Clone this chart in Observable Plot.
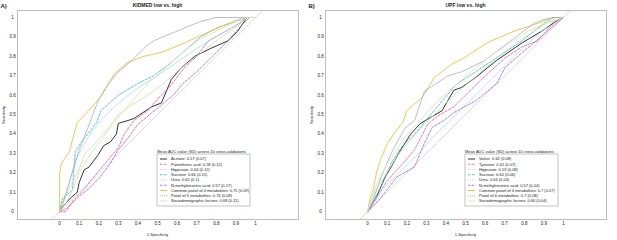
<!DOCTYPE html>
<html><head><meta charset="utf-8">
<script src="https://cdn.jsdelivr.net/npm/d3@7"></script>
<script src="https://cdn.jsdelivr.net/npm/@observablehq/plot@0.6"></script>
<style>
body{margin:0;background:#fff;}
#wrap{display:flex;width:617px;height:240px;overflow:hidden;}
svg{font-family:"Liberation Sans",Arial,sans-serif;}
</style></head><body><div id="wrap"></div>
<script>
// ---------- tick labels ----------
const xTicks = [0, 0.1, 0.2, 0.3, 0.4, 0.5, 0.6, 0.7, 0.8, 0.9, 1];
const yTicks = [0, 0.1, 0.2, 0.3, 0.4, 0.5, 0.6, 0.7, 0.8, 0.9, 1];

// ---------- Panel A: KIDMED low vs. high ----------
const namesA = ["Acetate", "Pantothenic acid", "Hippurate", "Sucrose", "Urea", "N-methylnicotinic acid", "Common panel of 4 metabolites", "Panel of 6 metabolites", "Sociodemographic factors"];
const aucMeanA = [0.57, 0.58, 0.64, 0.66, 0.65, 0.57, 0.75, 0.74, 0.68];
const aucSdA = [0.07, 0.12, 0.12, 0.15, 0.1, 0.17, 0.09, 0.08, 0.11];

const acetateA = [[0,0],[0.02,0.03],[0.055,0.07],[0.09,0.10],[0.10,0.15],[0.125,0.215],[0.15,0.23],[0.195,0.29],[0.225,0.34],[0.26,0.36],[0.29,0.40],[0.30,0.455],[0.35,0.47],[0.38,0.48],[0.47,0.54],[0.52,0.56],[0.57,0.68],[0.62,0.74],[0.69,0.80],[0.77,0.84],[0.86,0.88],[0.91,0.93],[0.95,0.99],[0.96,1],[1,1]];
const pantothenicA = [[0,0],[0.04,0.02],[0.08,0.07],[0.12,0.11],[0.16,0.16],[0.2,0.21],[0.25,0.27],[0.3,0.33],[0.33,0.4],[0.38,0.47],[0.45,0.52],[0.5,0.58],[0.56,0.64],[0.64,0.745],[0.7,0.8],[0.76,0.88],[0.85,0.93],[0.92,0.97],[0.96,1],[1,1]];
const hippurateA = [[0,0],[0.02,0.06],[0.05,0.15],[0.08,0.26],[0.12,0.34],[0.17,0.42],[0.22,0.48],[0.28,0.54],[0.35,0.6],[0.42,0.65],[0.5,0.7],[0.6,0.77],[0.7,0.84],[0.8,0.9],[0.9,0.96],[0.95,1],[1,1]];
const sucroseA = [[0,0],[0.015,0.07],[0.065,0.11],[0.08,0.31],[0.12,0.37],[0.19,0.46],[0.21,0.52],[0.3,0.6],[0.4,0.66],[0.48,0.70],[0.56,0.76],[0.64,0.83],[0.72,0.9],[0.81,0.95],[0.93,0.99],[0.96,1],[1,1]];
const ureaA = [[0,0],[0.02,0.06],[0.06,0.14],[0.1,0.22],[0.13,0.3],[0.18,0.35],[0.24,0.42],[0.3,0.5],[0.37,0.55],[0.45,0.6],[0.53,0.66],[0.62,0.74],[0.7,0.8],[0.8,0.88],[0.9,0.95],[0.96,1],[1,1]];
const nmnaA = [[0,0],[0.03,0],[0.06,0.04],[0.1,0.08],[0.15,0.12],[0.2,0.17],[0.26,0.25],[0.3,0.32],[0.35,0.38],[0.4,0.45],[0.46,0.5],[0.52,0.55],[0.58,0.6],[0.63,0.66],[0.7,0.72],[0.78,0.8],[0.86,0.88],[0.93,0.96],[0.97,1],[1,1]];
const common4A = [[0,0],[0,0.2],[0.01,0.25],[0.05,0.31],[0.09,0.46],[0.13,0.50],[0.21,0.59],[0.28,0.71],[0.35,0.77],[0.43,0.80],[0.52,0.82],[0.64,0.87],[0.77,0.93],[0.89,0.98],[0.94,1],[1,1]];
const panel6A = [[0,0],[0.02,0.05],[0.04,0.12],[0.07,0.22],[0.1,0.32],[0.14,0.42],[0.17,0.5],[0.2,0.58],[0.25,0.66],[0.3,0.72],[0.37,0.78],[0.44,0.85],[0.48,0.88],[0.6,0.93],[0.72,0.98],[0.8,1],[1,1]];
const socioA = [[0,0],[0.03,0.04],[0.07,0.12],[0.1,0.2],[0.14,0.27],[0.19,0.34],[0.25,0.42],[0.31,0.5],[0.38,0.58],[0.46,0.67],[0.55,0.75],[0.64,0.83],[0.72,0.89],[0.82,0.94],[0.92,0.99],[0.95,1],[1,1]];

// ---------- Panel B: UPF low vs. high ----------
const namesB = ["Valine", "Tyrosine", "Hippurate", "Sucrose", "Urea", "N-methylnicotinic acid", "Common panel of 4 metabolites", "Panel of 6 metabolites", "Sociodemographic factors"];
const aucMeanB = [0.62, 0.61, 0.59, 0.64, 0.64, 0.57, 0.7, 0.7, 0.66];
const aucSdB = [0.08, 0.07, 0.08, 0.06, 0.04, 0.04, 0.07, 0.08, 0.04];

const valineB = [[0,0],[0.045,0.075],[0.09,0.18],[0.12,0.23],[0.17,0.32],[0.22,0.40],[0.27,0.455],[0.33,0.49],[0.38,0.52],[0.44,0.625],[0.48,0.64],[0.55,0.69],[0.66,0.78],[0.79,0.87],[0.89,0.93],[0.99,1],[1,1]];
const tyrosineB = [[0,0],[0.04,0.06],[0.10,0.16],[0.19,0.26],[0.24,0.32],[0.31,0.455],[0.37,0.5],[0.44,0.54],[0.58,0.68],[0.70,0.79],[0.79,0.85],[0.87,0.88],[0.95,0.97],[1,1]];
const hippurateB = [[0,0],[0.03,0.05],[0.08,0.12],[0.14,0.18],[0.2,0.24],[0.27,0.31],[0.33,0.38],[0.4,0.45],[0.47,0.52],[0.55,0.6],[0.63,0.68],[0.72,0.77],[0.8,0.85],[0.88,0.92],[0.95,0.98],[1,1]];
const sucroseB = [[0,0],[0.02,0.04],[0.07,0.13],[0.12,0.25],[0.17,0.33],[0.24,0.40],[0.29,0.46],[0.38,0.57],[0.44,0.64],[0.46,0.66],[0.61,0.76],[0.79,0.88],[0.90,0.97],[0.95,1],[1,1]];
const ureaB = [[0,0],[0.02,0.06],[0.06,0.14],[0.11,0.22],[0.16,0.3],[0.22,0.37],[0.28,0.44],[0.35,0.51],[0.42,0.58],[0.5,0.65],[0.58,0.72],[0.67,0.8],[0.76,0.87],[0.85,0.93],[0.93,0.98],[1,1]];
const nmnaB = [[0,0],[0.03,0.03],[0.07,0.075],[0.15,0.18],[0.24,0.23],[0.28,0.33],[0.33,0.435],[0.39,0.47],[0.44,0.51],[0.55,0.57],[0.66,0.66],[0.70,0.74],[0.79,0.82],[0.85,0.87],[0.93,0.94],[1,1]];
const common4B = [[0,0],[0.01,0.06],[0.03,0.12],[0.045,0.2],[0.07,0.28],[0.10,0.35],[0.14,0.41],[0.18,0.46],[0.20,0.52],[0.28,0.59],[0.34,0.69],[0.43,0.76],[0.49,0.79],[0.61,0.87],[0.75,0.93],[0.87,0.97],[0.92,0.99],[0.96,1],[1,1]];
const panel6B = [[0,0],[0.02,0.04],[0.07,0.18],[0.12,0.30],[0.19,0.43],[0.24,0.47],[0.29,0.62],[0.35,0.66],[0.41,0.70],[0.48,0.72],[0.60,0.78],[0.73,0.88],[0.85,0.97],[0.9,0.99],[0.95,1],[1,1]];
const socioB = [[0,0],[0.02,0.07],[0.05,0.15],[0.09,0.23],[0.14,0.31],[0.19,0.38],[0.25,0.45],[0.32,0.53],[0.39,0.6],[0.47,0.67],[0.55,0.74],[0.64,0.81],[0.73,0.87],[0.82,0.93],[0.91,0.97],[1,1]];

// ---------- styles (one per legend row) ----------
const styles = [
  {stroke: "#1c1c1c", dash: null, width: 0.9},
  {stroke: "#e0579c", dash: "2.5,1.5", width: 0.8},
  {stroke: "#a6dbea", dash: "1,1", width: 0.9},
  {stroke: "#38b2d4", dash: "2.5,1.5", width: 0.8},
  {stroke: "#c6dea6", dash: "1,1", width: 0.9},
  {stroke: "#a661c2", dash: "2.5,1.5", width: 0.8},
  {stroke: "#e8c23c", dash: null, width: 0.9},
  {stroke: "#a9a9c9", dash: "1,1", width: 0.9},
  {stroke: "#dde2b6", dash: null, width: 0.9}
];

const xDomain = [-0.215, 1.22];
const yDomain = [-0.04, 1.036];

function panel({width, tag, title, names, means, sds, curves}) {
  const tables = curves.map(c => c.map(([fpr, tpr]) => ({fpr, tpr})));
  const diag = yDomain.map(v => ({fpr: v, tpr: v}));
  const fmt = d => String(d);
  const marginRight = width - 298;
  const svg = Plot.plot({
    width, height: 240,
    marginLeft: 17, marginRight, marginTop: 10, marginBottom: 21,
    x: {domain: xDomain, axis: null},
    y: {domain: yDomain, axis: null},
    style: {fontFamily: "Liberation Sans, Arial, sans-serif", background: "#fff", color: "#222"},
    marks: [
      Plot.line(diag, {x: "fpr", y: "tpr", stroke: "#cfcfcf", strokeWidth: 0.8}),
      ...tables.map((t, i) => Plot.line(t, {
        x: "fpr", y: "tpr",
        stroke: styles[i].stroke, strokeWidth: styles[i].width,
        strokeDasharray: styles[i].dash || undefined
      })),
      Plot.frame({stroke: "#bdbdbd", strokeWidth: 1}),
      Plot.axisX({ticks: xTicks, tickSize: 0, tickPadding: 2.5, tickFormat: fmt, fontSize: 4.5, label: null}),
      Plot.axisY({ticks: yTicks, tickSize: 0, tickPadding: 5, tickFormat: fmt, fontSize: 4.5, textAnchor: "middle", label: null})
    ]
  });
  const s = d3.select(svg);
  const g = s.append("g").attr("font-family", "Liberation Sans, Arial, sans-serif").attr("fill", "#222").attr("text-anchor", "start");
  g.append("text").attr("x", 0.5).attr("y", 7.5).attr("font-size", 6).attr("font-weight", "bold").attr("text-anchor", "start").text(tag);
  g.append("text").attr("x", 157.5).attr("y", 7.3).attr("font-size", 5).attr("font-weight", "bold").attr("text-anchor", "middle").text(title);
  g.append("text").attr("x", 157.5).attr("y", 235.5).attr("font-size", 4).attr("text-anchor", "middle").text("1-Specificity");
  g.append("text").attr("transform", "translate(4.5,115) rotate(-90)").attr("font-size", 4).attr("text-anchor", "middle").text("Sensitivity");
  // legend
  const lx = 157, ly = 154, lw = 93, lh = 52;
  g.append("text").attr("x", lx).attr("y", ly - 1).attr("font-size", 4).attr("text-anchor", "start").text("Mean AUC value (SD) across 10 cross-validations");
  g.append("rect").attr("x", lx).attr("y", ly).attr("width", lw).attr("height", lh).attr("fill", "#fff").attr("stroke", "#9a9a9a").attr("stroke-width", 0.6);
  names.forEach((n, i) => {
    const yy = ly + 5 + i * 5.25;
    const st = styles[i];
    g.append("line").attr("x1", lx + 3).attr("x2", lx + 10).attr("y1", yy).attr("y2", yy)
      .attr("stroke", st.stroke).attr("stroke-width", st.width).attr("stroke-dasharray", st.dash);
    g.append("text").attr("x", lx + 14).attr("y", yy + 1.4).attr("font-size", 4).attr("text-anchor", "start").text(`${n}: ${means[i]} (${sds[i]})`);
  });
  return svg;
}

const wrap = document.getElementById("wrap");
wrap.appendChild(panel({width: 308, tag: "A)", title: "KIDMED low vs. high", names: namesA, means: aucMeanA, sds: aucSdA,
  curves: [acetateA, pantothenicA, hippurateA, sucroseA, ureaA, nmnaA, common4A, panel6A, socioA]}));
wrap.appendChild(panel({width: 309, tag: "B)", title: "UPF low vs. high", names: namesB, means: aucMeanB, sds: aucSdB,
  curves: [valineB, tyrosineB, hippurateB, sucroseB, ureaB, nmnaB, common4B, panel6B, socioB]}));
</script></body></html>
